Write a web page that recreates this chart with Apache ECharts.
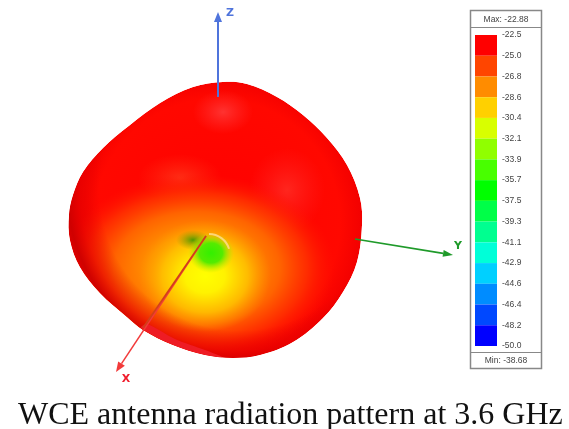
<!DOCTYPE html>
<html><head><meta charset="utf-8">
<style>html,body{margin:0;padding:0;background:#fff}#c{width:569px;height:429px}</style>
<script src="https://cdn.jsdelivr.net/npm/echarts@6/dist/echarts.min.js"></script>
</head><body><div id="c"></div>
<script>
// Colour scale of the legend
const scaleLabels = ['-22.5','-25.0','-26.8','-28.6','-30.4','-32.1','-33.9','-35.7','-37.5','-39.3','-41.1','-42.9','-44.6','-46.4','-48.2','-50.0'];
const scaleColors = ['#ff0000','#ff4500','#ff8c00','#ffd000','#d8ff00','#90ff00','#48ff00','#00ff00','#00ff48','#00ff90','#00ffd8','#00d0ff','#008cff','#0048ff','#0000ff'];
const maxLabel = 'Max: -22.88';
const minLabel = 'Min: -38.68';
const caption = 'WCE antenna radiation pattern at 3.6 GHz';
// Pattern outline
const outline = [[223,82],[247,84],[277,97],[303,115],[327,138],[347,165],[360,198],[362,225],[357,262],[343,292],[323,318],[293,342],[260,355],[233,358],[205,355],[173,345],[143,330],[127,317],[100,293],[80,267],[70,240],[69,215],[73,195],[83,172],[103,148],[130,125],[160,103],[193,87]];
const foldLip = [[141,328],[173,345],[205,355],[222,357],[205,350],[175,339],[147,324]];
// Lobes: centre x, centre y, radius x, radius y, gradient stops
const lobes = [
  [223,112,30,22,[[0,'rgba(255,65,65,.75)'],[1,'rgba(255,50,50,0)']]],
  [287,190,38,42,[[0,'rgba(255,60,50,.6)'],[1,'rgba(255,40,40,0)']]],
  [180,178,42,24,[[0,'rgba(255,80,40,.55)'],[1,'rgba(255,60,20,0)']]],
  [197,268,138,94,[[0,'rgba(255,165,0,1)'],[.35,'rgba(255,145,0,1)'],[.6,'rgba(255,100,0,1)'],[.8,'rgba(255,50,0,.85)'],[1,'rgba(255,20,0,0)']]],
  [205,276,66,56,[[0,'#ffff00'],[.3,'rgba(255,245,0,.97)'],[.65,'rgba(255,195,0,.85)'],[1,'rgba(255,150,0,0)']]],
  [193,240,17,10,[[0,'rgba(60,150,0,.9)'],[1,'rgba(140,150,0,0)']]],
  [211,253,23,20,[[0,'#33f000'],[.5,'rgba(85,235,0,1)'],[1,'rgba(190,230,0,0)']]]
];
const zAxisLine = [[218,97],[218,12]];
const yAxisLine = [[355,239],[453,255]];
const xAxisLine = [[206,236],[116,372]];
const xAxisOnBody = [[206,236],[143,328]];

const G = echarts.graphic;
function arrow(api, seg, color, w, hl, hw){
  const a = api.coord(seg[0]), b = api.coord(seg[1]);
  const l = Math.hypot(b[0]-a[0], b[1]-a[1]), ux=(b[0]-a[0])/l, uy=(b[1]-a[1])/l;
  const bx=b[0]-ux*hl, by=b[1]-uy*hl;
  return [
    {type:'line',shape:{x1:a[0],y1:a[1],x2:bx,y2:by},style:{stroke:color,lineWidth:w}},
    {type:'polygon',shape:{points:[b,[bx-uy*hw,by+ux*hw],[bx+uy*hw,by-ux*hw]]},style:{fill:color}}
  ];
}
function renderBody(params, api){
  const pts = outline.map(p=>api.coord(p));
  const inner = [];
  const c0 = api.coord([217,222]);
  inner.push({type:'polygon',shape:{points:pts,smooth:0.35},
    style:{fill:new G.RadialGradient(c0[0],c0[1],158,[{offset:0,color:'#ff0000'},{offset:.78,color:'#ff0800'},{offset:.93,color:'#f20000'},{offset:1,color:'#dc0000'}],true)}});
  lobes.forEach(l=>{
    const c=api.coord([l[0],l[1]]);
    inner.push({type:'circle',shape:{cx:c[0],cy:c[1],r:l[3]},originX:c[0],originY:c[1],scaleX:l[2]/l[3],
      style:{fill:new G.RadialGradient(.5,.5,.5,l[4].map(s=>({offset:s[0],color:s[1]})))}});
  });
  const c1 = api.coord([240,190]);
  inner.push({type:'polygon',shape:{points:pts,smooth:0.35},
    style:{fill:new G.RadialGradient(c1[0],c1[1],180,[{offset:.78,color:'rgba(220,0,0,0)'},{offset:.89,color:'rgba(225,0,0,.55)'},{offset:.96,color:'rgba(205,0,0,.95)'},{offset:1,color:'rgba(225,0,0,1)'}],true)}});
  inner.push({type:'polygon',shape:{points:foldLip.map(p=>api.coord(p)),smooth:0.3},style:{fill:'#ee1c24'}});
  const kids=[{type:'group',clipPath:{type:'polygon',shape:{points:pts,smooth:0.35}},children:inner}];
  const rim=api.coord([209,255]);
  kids.push({type:'arc',shape:{cx:rim[0],cy:rim[1],r:21,startAngle:-Math.PI/2,endAngle:-0.3},style:{fill:'none',stroke:'rgba(255,220,140,.85)',lineWidth:2}});
  kids.push(...arrow(api,zAxisLine,'#4f74dc',2,10,4));
  kids.push(...arrow(api,yAxisLine,'#1f9a2a',1.6,10,3.5));
  kids.push(...arrow(api,xAxisLine,'#f23a3a',1.5,10,4));
  const s=api.coord(xAxisOnBody[0]),e=api.coord(xAxisOnBody[1]);
  kids.push({type:'line',shape:{x1:s[0],y1:s[1],x2:e[0],y2:e[1]},style:{stroke:'#d2401a',lineWidth:1.6}});
  [['Z',230,13,'#4f74dc'],['Y',458,246,'#1f9a2a'],['X',126,379,'#f01c2c']].forEach(t=>{
    const p=api.coord([t[1],t[2]]);
    kids.push({type:'text',style:{text:t[0],x:p[0],y:p[1],fill:t[3],align:'center',verticalAlign:'middle',font:'bold 11px "DejaVu Sans"'}});
  });
  return {type:'group',children:kids};
}
function renderScale(params, api){
  const i=api.value(1);
  const a=api.coord([0,i]), b=api.coord([1,i+1]);
  return {type:'rect',shape:{x:a[0],y:a[1],width:b[0]-a[0],height:b[1]-a[1]},style:{fill:scaleColors[i]}};
}
const chart = echarts.init(document.getElementById('c'),null,{renderer:'canvas'});
chart.setOption({
  animation:false,
  backgroundColor:'#fff',
  title:{text:caption,left:13,top:395,padding:5,textStyle:{fontFamily:'Liberation Serif',fontWeight:'normal',fontSize:32,color:'#111'}},
  grid:[{left:0,right:0,top:0,bottom:0},{left:475,width:22,top:35,height:311}],
  xAxis:[{type:'value',min:0,max:569,show:false,gridIndex:0},{type:'value',min:0,max:1,show:false,gridIndex:1}],
  yAxis:[{type:'value',min:0,max:429,inverse:true,show:false,gridIndex:0},
    {type:'category',gridIndex:1,inverse:true,boundaryGap:false,data:scaleLabels,position:'right',
     axisLine:{show:false},axisTick:{show:false},splitLine:{show:false},
     axisLabel:{interval:0,color:'#444',fontFamily:'Liberation Sans',fontSize:8.5,margin:5}}],
  graphic:[
    {type:'rect',z:0,shape:{x:470.5,y:10.5,width:71,height:358},style:{fill:'#fff',stroke:'#888',lineWidth:1.5}},
    {type:'line',z:0,shape:{x1:470,y1:27.5,x2:542,y2:27.5},style:{stroke:'#888',lineWidth:1}},
    {type:'line',z:0,shape:{x1:470,y1:352.5,x2:542,y2:352.5},style:{stroke:'#888',lineWidth:1}},
    {type:'text',z:1,style:{text:maxLabel,x:506,y:19.5,align:'center',verticalAlign:'middle',fill:'#444',font:'8.5px "Liberation Sans"'}},
    {type:'text',z:1,style:{text:minLabel,x:506,y:360.5,align:'center',verticalAlign:'middle',fill:'#444',font:'8.5px "Liberation Sans"'}}
  ],
  series:[
    {type:'custom',xAxisIndex:0,yAxisIndex:0,clip:false,renderItem:renderBody,data:[[0,0]],silent:true},
    {type:'custom',xAxisIndex:1,yAxisIndex:1,clip:false,renderItem:renderScale,encode:{x:0,y:1},data:scaleColors.map((c,i)=>[0,i]),silent:true}
  ]
});
</script></body></html>
